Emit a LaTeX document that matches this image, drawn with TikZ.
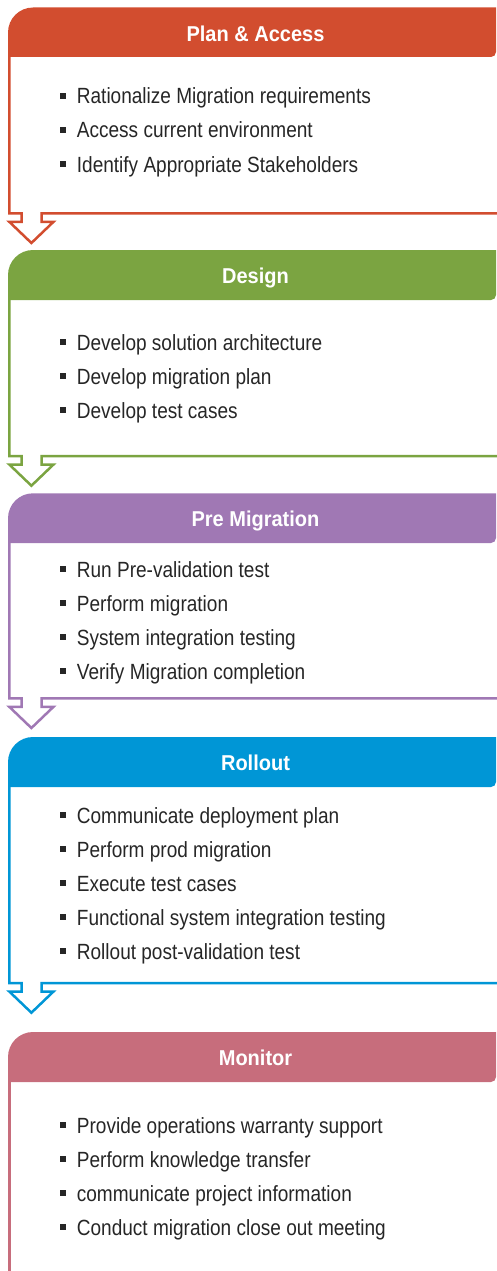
\documentclass[tikz,border=0pt]{standalone}
\usepackage{fontspec}
\setmainfont{Liberation Sans}[FakeStretch=0.865]
\newfontfamily\titlefont{Liberation Sans}[FakeStretch=0.93]
\usetikzlibrary{positioning}

\definecolor{plancol}{HTML}{D24D2F}
\definecolor{designcol}{HTML}{7BA441}
\definecolor{premigcol}{HTML}{A078B4}
\definecolor{rolloutcol}{HTML}{0096D6}
\definecolor{monitorcol}{HTML}{C76D7C}
\definecolor{textdark}{HTML}{262626}

\newcommand{\itembox}{\makebox[16.7pt][l]{\raisebox{4.7pt}{\rule{6pt}{6pt}}}}

\tikzset{
  outline/.style={line width=2.5pt, miter limit=4},
  ttl/.style={text=white, inner sep=0pt, anchor=base,
    font=\titlefont\bfseries\fontsize{21.5}{24}\selectfont},
  item/.style={text=textdark, inner sep=0pt, anchor=base west,
    font=\fontsize{22}{24}\selectfont},
}

\begin{document}
\begin{tikzpicture}[x=1pt, y=1pt]
    \useasboundingbox (0,0) rectangle (496,-1271);

    % Plan & Access
    \draw[outline, plancol] (9.3,-57) -- (9.3,-213.3) -- (21.5,-213.3) -- (21.5,-221.8)
      -- (9.3,-221.8) -- (31.4,-243) -- (53.5,-221.8) -- (41.5,-221.8) -- (41.5,-213.3) -- (497,-213.3);
    \fill[plancol] (8,-57) -- (8,-32.5) arc[start angle=180, end angle=90, radius=25pt]
      -- (496,-7.5) -- (496,-52) arc[start angle=0, end angle=-90, radius=5pt] -- cycle;
    \node[ttl] (ttlplan) at (255.5,-41.5) {Plan \& Access};
    \node[item] (plan1) at (60,-104) {\itembox Rationalize Migration requirements};
    \node[item] (plan2) at (60,-138) {\itembox Access current environment};
    \node[item] (plan3) at (60,-172) {\itembox Identify Appropriate Stakeholders};

    % Design
    \draw[outline, designcol] (9.3,-300) -- (9.3,-456) -- (21.5,-456) -- (21.5,-464.5)
      -- (9.3,-464.5) -- (31.4,-485.7) -- (53.5,-464.5) -- (41.5,-464.5) -- (41.5,-456) -- (497,-456);
    \fill[designcol] (8,-300) -- (8,-275) arc[start angle=180, end angle=90, radius=25pt]
      -- (496,-250) -- (496,-295) arc[start angle=0, end angle=-90, radius=5pt] -- cycle;
    \node[ttl] (ttldesign) at (255.5,-283) {Design};
    \node[item] (design1) at (60,-350) {\itembox Develop solution architecture};
    \node[item] (design2) at (60,-384) {\itembox Develop migration plan};
    \node[item] (design3) at (60,-418) {\itembox Develop test cases};

    % Pre Migration
    \draw[outline, premigcol] (9.3,-543) -- (9.3,-698.3) -- (21.5,-698.3) -- (21.5,-706.8)
      -- (9.3,-706.8) -- (31.4,-728) -- (53.5,-706.8) -- (41.5,-706.8) -- (41.5,-698.3) -- (497,-698.3);
    \fill[premigcol] (8,-543) -- (8,-518.3) arc[start angle=180, end angle=90, radius=25pt]
      -- (496,-493.3) -- (496,-538) arc[start angle=0, end angle=-90, radius=5pt] -- cycle;
    \node[ttl] (ttlpremig) at (255.5,-526.5) {Pre Migration};
    \node[item] (premig1) at (60,-577) {\itembox Run Pre-validation test};
    \node[item] (premig2) at (60,-611) {\itembox Perform migration};
    \node[item] (premig3) at (60,-645) {\itembox System integration testing};
    \node[item] (premig4) at (60,-679) {\itembox Verify Migration completion};

    % Rollout
    \draw[outline, rolloutcol] (9.3,-787) -- (9.3,-983) -- (21.5,-983) -- (21.5,-991.5)
      -- (9.3,-991.5) -- (31.4,-1012.7) -- (53.5,-991.5) -- (41.5,-991.5) -- (41.5,-983) -- (497,-983);
    \fill[rolloutcol] (8,-787) -- (8,-762) arc[start angle=180, end angle=90, radius=25pt]
      -- (496,-737) -- (496,-782) arc[start angle=0, end angle=-90, radius=5pt] -- cycle;
    \node[ttl] (ttlrollout) at (255.5,-770.5) {Rollout};
    \node[item] (rollout1) at (60,-823) {\itembox Communicate deployment plan};
    \node[item] (rollout2) at (60,-857) {\itembox Perform prod migration};
    \node[item] (rollout3) at (60,-891) {\itembox Execute test cases};
    \node[item] (rollout4) at (60,-925) {\itembox Functional system integration testing};
    \node[item] (rollout5) at (60,-959) {\itembox Rollout post-validation test};

    % Monitor
    \draw[outline, monitorcol] (9.3,-1082) -- (9.3,-1272);
    \fill[monitorcol] (8,-1082) -- (8,-1057) arc[start angle=180, end angle=90, radius=25pt]
      -- (496,-1032) -- (496,-1077) arc[start angle=0, end angle=-90, radius=5pt] -- cycle;
    \node[ttl] (ttlmonitor) at (255.5,-1065.5) {Monitor};
    \node[item] (monitor1) at (60,-1133) {\itembox Provide operations warranty support};
    \node[item] (monitor2) at (60,-1167) {\itembox Perform knowledge transfer};
    \node[item] (monitor3) at (60,-1201) {\itembox communicate project information};
    \node[item] (monitor4) at (60,-1235) {\itembox Conduct migration close out meeting};

\end{tikzpicture}
\end{document}
